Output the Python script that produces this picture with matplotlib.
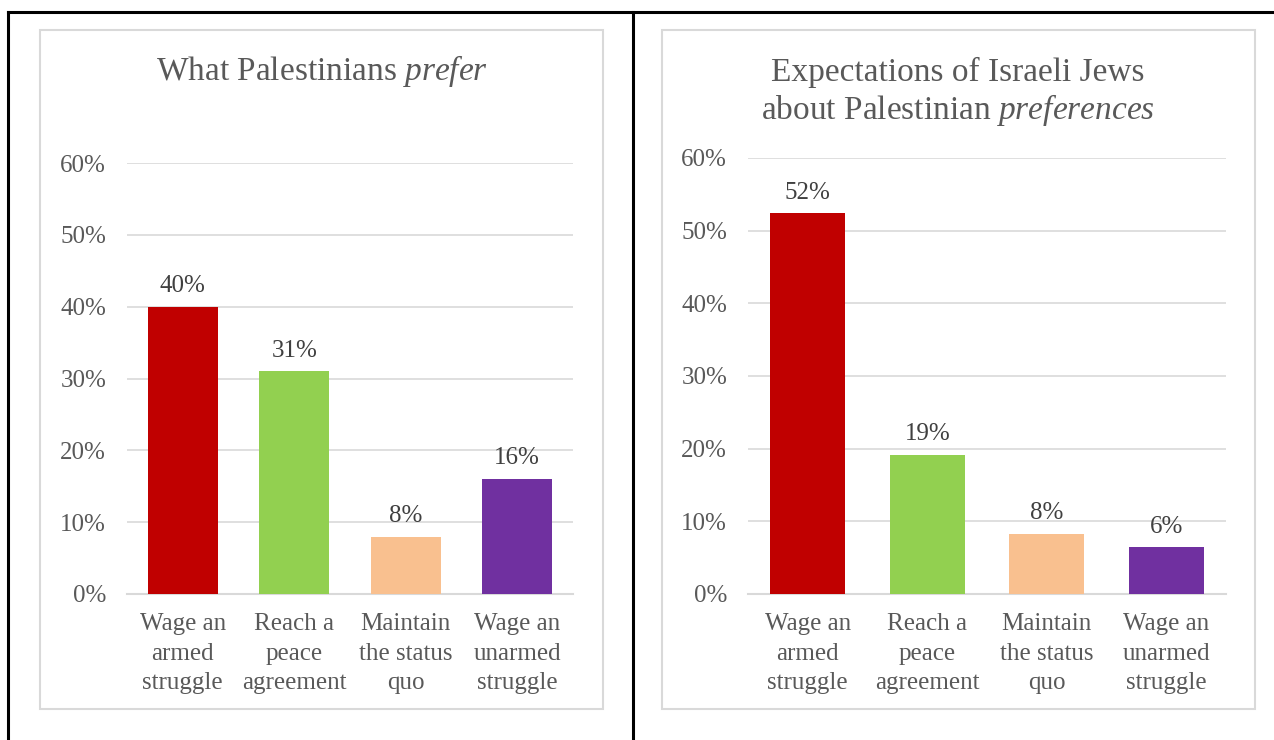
"""
Two bar charts: Palestinian preferences vs. Israeli Jews' expectations.
"""

import matplotlib.pyplot as plt
from matplotlib import ticker
from matplotlib.lines import Line2D
from matplotlib.patches import Rectangle

FONT = ["Liberation Serif", "DejaVu Serif"]
TEXT = "#595959"
VALUE_TEXT = "#404040"
GRID = "#d9d9d9"

categories = [
    "Wage an\narmed\nstruggle",
    "Reach a\npeace\nagreement",
    "Maintain\nthe status\nquo",
    "Wage an\nunarmed\nstruggle",
]
bar_colors = ["#C00000", "#92D050", "#F9C08F", "#7030A0"]

palestinians_prefer = [40.0, 31.0, 8.0, 16.0]
israeli_expectations = [52.4, 19.1, 8.3, 6.4]
y_ticks = [0, 10, 20, 30, 40, 50, 60]

plt.rcParams["font.family"] = FONT
plt.rcParams["mathtext.fontset"] = "custom"
plt.rcParams["mathtext.rm"] = "Liberation Serif"
plt.rcParams["mathtext.it"] = "Liberation Serif:italic"

fig = plt.figure(figsize=(12.74, 7.4), dpi=100)
W, H = 1274, 740


def px_rect(x0, y0, x1, y1):
    """Pixel box (top-left origin) -> figure fraction [l, b, w, h]."""
    return [x0 / W, 1 - y1 / H, (x1 - x0) / W, (y1 - y0) / H]


# black table frame
for xs, ys in [((8, 1274), (12, 12)), ((8, 8), (12, 740)), ((633, 633), (12, 740))]:
    fig.add_artist(Line2D([x / W for x in xs], [1 - y / H for y in ys],
                          color="black", lw=2.2, transform=fig.transFigure))

# light grey chart boxes
for box in [(40, 30, 603, 709), (662, 30, 1255, 709)]:
    l, b, w, h = px_rect(*box)
    fig.add_artist(Rectangle((l, b), w, h, transform=fig.transFigure,
                             fill=False, edgecolor=GRID, lw=1.5))


def draw_panel(ax, values, title, title_xy):
    x = range(len(categories))
    bars = ax.bar(x, values, width=0.63, color=bar_colors, zorder=3)
    for rect, v in zip(bars, values):
        ax.annotate(f"{round(v)}%", (rect.get_x() + rect.get_width() / 2, v),
                    xytext=(0, 7), textcoords="offset points",
                    ha="center", va="bottom", fontsize=18, color=VALUE_TEXT)
    ax.set_ylim(0, 60)
    ax.set_xlim(-0.5, len(categories) - 0.5)
    ax.set_yticks(y_ticks)
    ax.yaxis.set_major_formatter(ticker.StrMethodFormatter("{x:.0f}%"))
    ax.set_xticks(list(x))
    ax.set_xticklabels(categories, fontsize=18, color=TEXT, linespacing=1.42)
    ax.tick_params(axis="y", labelsize=18, labelcolor=TEXT, length=0, pad=15)
    ax.tick_params(axis="x", length=0, pad=14)
    ax.grid(axis="y", color=GRID, lw=1.2, zorder=0)
    for side in ("top", "right", "left"):
        ax.spines[side].set_visible(False)
    ax.spines["bottom"].set_color(GRID)
    ax.spines["bottom"].set_linewidth(1.5)

    tx, ty = title_xy
    fig.text(tx, ty, title, ha="center", va="center", linespacing=1.15,
             fontsize=24, color=TEXT, transform=fig.transFigure)


ax1 = fig.add_axes(px_rect(127, 163, 573, 594))
draw_panel(ax1, palestinians_prefer,
           r"What Palestinians $\mathit{prefer}$", (322 / W, 1 - 71 / H))

ax2 = fig.add_axes(px_rect(748, 158, 1226, 594))
draw_panel(ax2, israeli_expectations,
           "Expectations of Israeli Jews\n"
           r"about Palestinian $\mathit{preferences}$", (958 / W, 1 - 92 / H))

fig.savefig("out.png", dpi=100)
